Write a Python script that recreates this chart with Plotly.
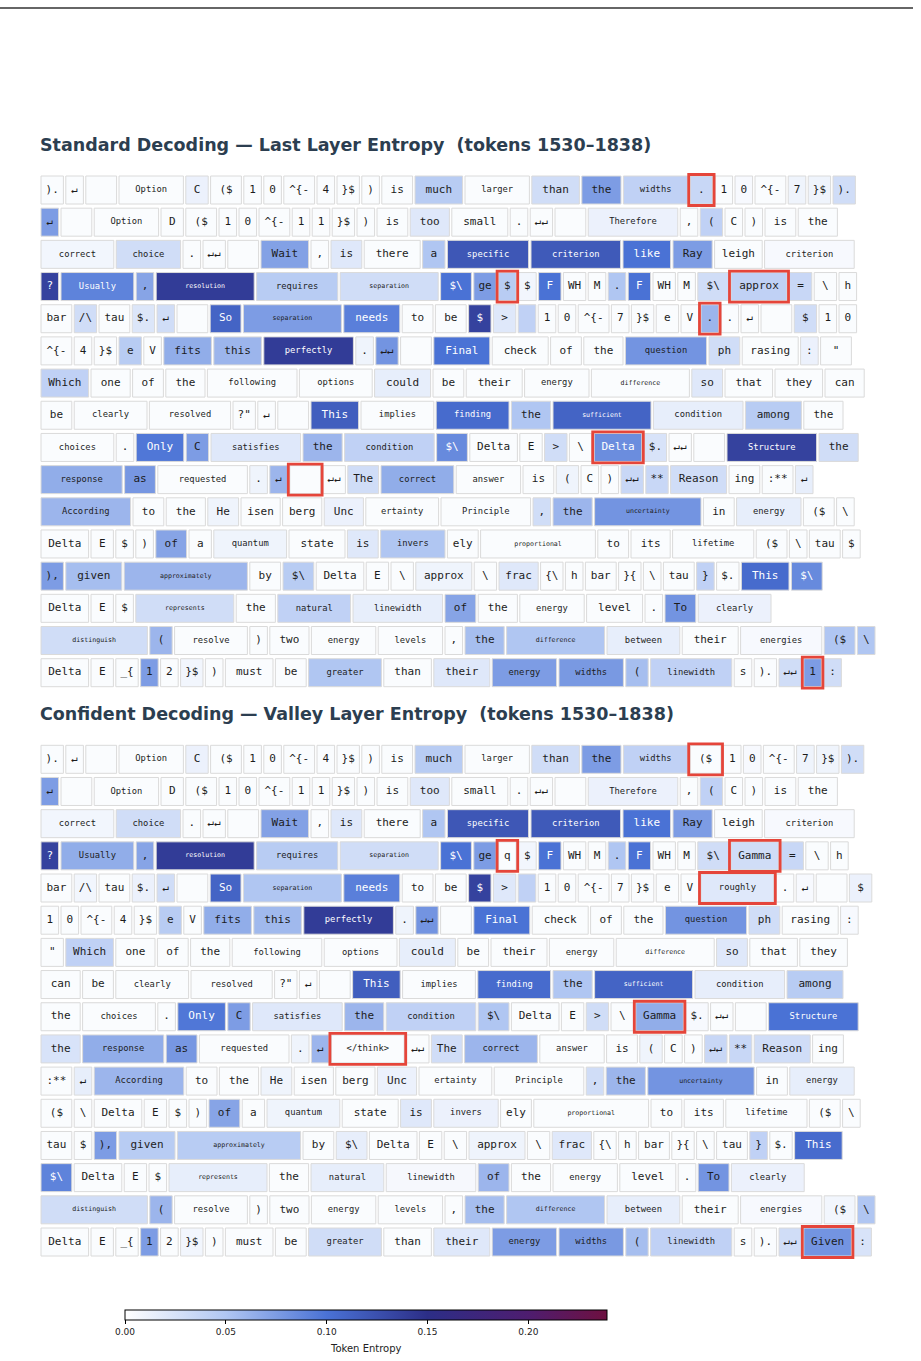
import plotly.graph_objects as go

# ---------------- data ----------------
STD_ROWS = [
    [").", "↵", "   ", " Option", " C", " ($", "1", "0", "^{-", "4", "}$", ")", " is", " much", " larger", " than", " the", " widths", " .", "1", "0", "^{-", "7", "}$", ")."],
    ["↵", "   ", " Option", " D", " ($", "1", "0", "^{-", "1", "1", "}$", ")", " is", " too", " small", ".", "↵↵", "   ", " Therefore", ",", " (", "C", ")", " is", " the"],
    [" correct", " choice", ".", "↵↵", "   ", " Wait", ",", " is", " there", " a", " specific", " criterion", " like", " Ray", "leigh", " criterion"],
    ["?", " Usually", ",", " resolution", " requires", " separation", " $\\", "ge", "$", "$", " F", "WH", "M", ".", " F", "WH", "M", " $\\", "approx", " =", " \\", "h"],
    ["bar", "/\\", "tau", "$.", "↵", "   ", " So", " separation", " needs", " to", " be", " $", " >", " ", "1", "0", "^{-", "7", "}$", " e", "V", ".", ".", "↵", "   ", " $", "1", "0"],
    ["^{-", "4", "}$", " e", "V", " fits", " this", " perfectly", ".", "↵↵", "   ", " Final", " check", " of", " the", " question", " ph", "rasing", ":", "  \""],
    ["Which", " one", " of", " the", " following", " options", " could", " be", " their", " energy", " difference", " so", " that", " they", " can"],
    [" be", " clearly", " resolved", "?\"", "↵", "   ", " This", " implies", " finding", " the", " sufficient", " condition", " among", " the"],
    [" choices", ".", " Only", " C", " satisfies", " the", " condition", " $\\", "Delta", " E", " >", " \\", "Delta", "$.", "↵↵", "   ", " Structure", " the"],
    [" response", " as", " requested", ".", "↵", "   ", "↵↵", "The", " correct", " answer", " is", " (", "C", ")", "↵↵", "**", "Reason", "ing", ":**", "↵"],
    [" According", " to", " the", " He", "isen", "berg", " Unc", "ertainty", " Principle", ",", " the", " uncertainty", " in", " energy", " ($", "\\"],
    ["Delta", " E", "$", ")", " of", " a", " quantum", " state", " is", " invers", "ely", " proportional", " to", " its", " lifetime", " ($", "\\", "tau", "$"],
    ["),", " given", " approximately", " by", " $\\", "Delta", " E", " \\", "approx", " \\", "frac", "{\\", "h", "bar", "}{", "\\", "tau", "}", "$.", " This", " $\\"],
    ["Delta", " E", "$", " represents", " the", " natural", " linewidth", " of", " the", " energy", " level", ".", " To", " clearly"],
    [" distinguish", " (", " resolve", ")", " two", " energy", " levels", ",", " the", " difference", " between", " their", " energies", " ($", "\\"],
    ["Delta", " E", "_{", "1", "2", "}$", ")", " must", " be", " greater", " than", " their", " energy", " widths", " (", "linewidth", "s", ").", "↵↵", "1", ":"],
]
STD_ENT = [
    [.003, .003, .003, .003, .012, .003, .003, .003, .003, .003, .003, .003, .003, .045, .003, .03, .075, .04, .035, .003, .005, .003, .01, .01, .03],
    [.075, .003, .003, .003, .003, .003, .003, .003, .003, .003, .003, .003, .003, .02, .003, .003, .003, .003, .012, .003, .04, .003, .003, .003, .003],
    [.008, .03, .003, .003, .003, .072, .003, .02, .003, .05, .12, .118, .1, .075, .003, .005],
    [.135, .09, .07, .14, .045, .03, .1, .075, .045, .008, .1, .003, .003, .05, .1, .003, .003, .03, .04, .035, .003, .003],
    [.003, .03, .003, .022, .03, .003, .11, .075, .092, .003, .003, .135, .02, .04, .003, .003, .003, .003, .003, .003, .003, .06, .003, .003, .003, .03, .003, .003],
    [.003, .003, .003, .045, .003, .065, .06, .14, .01, .08, .003, .1, .003, .003, .003, .08, .03, .003, .012, .003],
    [.04, .003, .003, .003, .003, .003, .015, .003, .003, .003, .003, .02, .003, .003, .003],
    [.003, .003, .003, .003, .003, .003, .115, .003, .105, .05, .11, .015, .045, .003],
    [.003, .003, .097, .075, .02, .06, .04, .086, .003, .003, .03, .003, .084, .025, .003, .003, .135, .03],
    [.065, .078, .003, .01, .06, .003, .003, .03, .065, .003, .003, .01, .003, .003, .035, .035, .03, .003, .003, .015],
    [.06, .003, .003, .01, .003, .003, .012, .003, .003, .03, .06, .08, .003, .015, .003, .003],
    [.003, .003, .003, .003, .07, .003, .01, .003, .02, .05, .003, .003, .003, .003, .003, .003, .003, .003, .003],
    [.075, .055, .06, .003, .045, .003, .003, .003, .01, .003, .02, .003, .003, .003, .003, .003, .003, .04, .003, .105, .086],
    [.003, .003, .003, .03, .003, .04, .015, .07, .003, .003, .003, .003, .08, .012],
    [.03, .06, .003, .003, .003, .003, .003, .003, .055, .05, .015, .003, .005, .05, .05],
    [.003, .003, .003, .075, .003, .008, .003, .003, .003, .05, .003, .02, .075, .077, .055, .04, .003, .003, .03, .075, .03],
]
STD_HL = [(0, 18), (3, 8), (3, 18), (4, 21), (8, 12), (9, 5), (15, 19)]

CONF_ROWS = [
    [").", "↵", "   ", " Option", " C", " ($", "1", "0", "^{-", "4", "}$", ")", " is", " much", " larger", " than", " the", " widths", " ($", "1", "0", "^{-", "7", "}$", ")."],
    ["↵", "   ", " Option", " D", " ($", "1", "0", "^{-", "1", "1", "}$", ")", " is", " too", " small", ".", "↵↵", "   ", " Therefore", ",", " (", "C", ")", " is", " the"],
    [" correct", " choice", ".", "↵↵", "   ", " Wait", ",", " is", " there", " a", " specific", " criterion", " like", " Ray", "leigh", " criterion"],
    ["?", " Usually", ",", " resolution", " requires", " separation", " $\\", "ge", "q", "$", " F", "WH", "M", ".", " F", "WH", "M", " $\\", "Gamma", " =", " \\", "h"],
    ["bar", "/\\", "tau", "$.", "↵", "   ", " So", " separation", " needs", " to", " be", " $", " >", " ", "1", "0", "^{-", "7", "}$", " e", "V", " roughly", ".", "↵", "   ", " $"],
    ["1", "0", "^{-", "4", "}$", " e", "V", " fits", " this", " perfectly", ".", "↵↵", "   ", " Final", " check", " of", " the", " question", " ph", "rasing", ":"],
    [" \"", "Which", " one", " of", " the", " following", " options", " could", " be", " their", " energy", " difference", " so", " that", " they"],
    [" can", " be", " clearly", " resolved", "?\"", "↵", "   ", " This", " implies", " finding", " the", " sufficient", " condition", " among"],
    [" the", " choices", ".", " Only", " C", " satisfies", " the", " condition", " $\\", "Delta", " E", " >", " \\", "Gamma", "$.", "↵↵", "   ", " Structure"],
    [" the", " response", " as", " requested", ".", "↵", "</think>", "↵↵", "The", " correct", " answer", " is", " (", "C", ")", "↵↵", "**", "Reason", "ing"],
    [":**", "↵", " According", " to", " the", " He", "isen", "berg", " Unc", "ertainty", " Principle", ",", " the", " uncertainty", " in", " energy"],
    [" ($", "\\", "Delta", " E", "$", ")", " of", " a", " quantum", " state", " is", " invers", "ely", " proportional", " to", " its", " lifetime", " ($", "\\"],
    ["tau", "$", "),", " given", " approximately", " by", " $\\", "Delta", " E", " \\", "approx", " \\", "frac", "{\\", "h", "bar", "}{", "\\", "tau", "}", "$.", " This"],
    [" $\\", "Delta", " E", "$", " represents", " the", " natural", " linewidth", " of", " the", " energy", " level", ".", " To", " clearly"],
    [" distinguish", " (", " resolve", ")", " two", " energy", " levels", ",", " the", " difference", " between", " their", " energies", " ($", "\\"],
    ["Delta", " E", "_{", "1", "2", "}$", ")", " must", " be", " greater", " than", " their", " energy", " widths", " (", "linewidth", "s", ").", "↵↵", "Given", ":"],
]
CONF_ENT = [
    [.003, .003, .003, .003, .012, .003, .003, .003, .003, .003, .003, .003, .003, .045, .003, .03, .075, .04, .003, .003, .005, .003, .01, .01, .03],
    [.075, .003, .003, .003, .003, .003, .003, .003, .003, .003, .003, .003, .003, .02, .003, .003, .003, .003, .012, .003, .04, .003, .003, .003, .003],
    [.008, .03, .003, .003, .003, .072, .003, .02, .003, .05, .12, .118, .1, .075, .003, .005],
    [.135, .065, .07, .14, .045, .03, .1, .075, .003, .008, .1, .003, .003, .05, .1, .003, .003, .03, .03, .035, .003, .003],
    [.003, .008, .003, .012, .03, .003, .11, .05, .092, .003, .003, .135, .02, .04, .003, .003, .003, .003, .003, .003, .003, .02, .003, .005, .003, .012],
    [.003, .003, .003, .003, .003, .045, .003, .065, .058, .14, .01, .08, .003, .1, .003, .003, .003, .08, .03, .003, .005],
    [.003, .04, .003, .003, .003, .003, .003, .015, .003, .003, .003, .003, .02, .003, .003],
    [.003, .003, .003, .003, .003, .003, .003, .115, .003, .105, .05, .11, .015, .045],
    [.003, .003, .003, .097, .075, .02, .06, .04, .05, .003, .003, .03, .003, .065, .005, .003, .003, .1],
    [.025, .065, .078, .003, .01, .06, .003, .003, .03, .06, .003, .003, .01, .003, .003, .035, .035, .03, .003],
    [.003, .015, .06, .003, .003, .01, .003, .003, .012, .003, .003, .03, .06, .08, .003, .015],
    [.003, .003, .003, .003, .003, .003, .07, .003, .01, .003, .02, .012, .003, .003, .003, .003, .003, .003, .003],
    [.003, .003, .075, .045, .045, .003, .015, .003, .003, .003, .01, .003, .02, .003, .003, .003, .003, .003, .003, .04, .003, .105],
    [.09, .003, .003, .003, .015, .003, .015, .006, .06, .003, .003, .003, .003, .08, .012],
    [.03, .06, .003, .003, .003, .003, .003, .003, .055, .05, .015, .003, .005, .008, .05],
    [.003, .003, .003, .075, .003, .008, .003, .003, .003, .03, .003, .02, .075, .077, .055, .04, .003, .003, .03, .08, .025],
]
CONF_HL = [(0, 18), (3, 8), (3, 18), (4, 21), (8, 13), (9, 6), (15, 19)]

TITLES = [
    "Standard Decoding — Last Layer Entropy  (tokens 1530–1838)",
    "Confident Decoding — Valley Layer Entropy  (tokens 1530–1838)",
]
CB_TITLE = "Token Entropy"
CB_TICKS = [0.00, 0.05, 0.10, 0.15, 0.20]
CB_MAX = 0.239

# ---------------- layout constants ----------------
W, H = 921, 1361
X_START = 41.0
ROW_PITCH = 32.18
PANEL_ROW0 = [190.0, 759.3]
TITLE_Y = [145.0, 714.0]
BOX_H = 28.0
GAP = 2.4
CHAR_W = 8.4
PAD = 8.0
MIN_PITCH = 20.0
WHITE_TEXT_AT = 0.082

COLORSCALE = [
    [0.0, "#ffffff"],
    [0.05 / CB_MAX, "#b0c6f2"],
    [0.10 / CB_MAX, "#4a72d5"],
    [0.15 / CB_MAX, "#2c2e87"],
    [0.20 / CB_MAX, "#4e1d6f"],
    [1.0, "#6e1040"],
]


def tok_pitch(tok):
    return max(MIN_PITCH, CHAR_W * len(tok) + PAD)


def tok_font(tok):
    n = len(tok)
    if n <= 6:
        return 11.0
    if n <= 10:
        return 8.8
    return 6.6


fig = go.Figure()

for p, (rows, ents, hls) in enumerate([(STD_ROWS, STD_ENT, STD_HL), (CONF_ROWS, CONF_ENT, CONF_HL)]):
    bases, widths, ys, cols = [], [], [], []
    tx, ty, tt, ts, tc = [], [], [], [], []
    pos = {}
    for r, (row, erow) in enumerate(zip(rows, ents)):
        assert len(row) == len(erow), (p, r, len(row), len(erow))
        x = X_START
        yc = PANEL_ROW0[p] + r * ROW_PITCH
        for i, (tok, e) in enumerate(zip(row, erow)):
            pw = tok_pitch(tok)
            w = pw - GAP
            bases.append(x)
            widths.append(w)
            ys.append(yc)
            cols.append(e)
            tx.append(x + w / 2)
            ty.append(yc)
            tt.append(tok.strip())
            ts.append(tok_font(tok))
            tc.append("#ffffff" if e >= WHITE_TEXT_AT else "#1c1c1c")
            pos[(r, i)] = (x, w, yc)
            x += pw
    fig.add_trace(go.Bar(
        orientation="h", base=bases, x=widths, y=ys, width=BOX_H,
        marker=dict(color=cols, coloraxis="coloraxis", line=dict(color="#dadada", width=1)),
        hoverinfo="skip", showlegend=False,
    ))
    hb, hw, hy = [], [], []
    for key in hls:
        x, w, yc = pos[key]
        hb.append(x - 1.5)
        hw.append(w + 3)
        hy.append(yc)
    fig.add_trace(go.Bar(
        orientation="h", base=hb, x=hw, y=hy, width=BOX_H + 3,
        marker=dict(color="rgba(0,0,0,0)", line=dict(color="#e5453a", width=2.8)),
        hoverinfo="skip", showlegend=False,
    ))
    fig.add_trace(go.Scatter(
        x=tx, y=ty, text=tt, mode="text", textposition="middle center",
        textfont=dict(family="DejaVu Sans Mono", size=ts, color=tc),
        hoverinfo="skip", showlegend=False,
    ))
    fig.add_annotation(
        x=38 / W, y=1 - TITLE_Y[p] / H, xref="paper", yref="paper",
        xanchor="left", yanchor="middle", showarrow=False,
        text="<b>" + TITLES[p] + "</b>",
        font=dict(family="DejaVu Sans", size=17.5, color="#2c3e50"),
    )

fig.add_shape(type="line", xref="paper", yref="paper", x0=0, x1=913 / W,
              y0=1 - 8 / H, y1=1 - 8 / H, line=dict(color="#333333", width=1.5))

fig.add_annotation(
    x=366 / W, y=1 - 1348 / H, xref="paper", yref="paper",
    xanchor="center", yanchor="middle", showarrow=False,
    text=CB_TITLE, font=dict(family="DejaVu Sans", size=10, color="#222222"),
)

fig.update_layout(
    width=W, height=H, margin=dict(l=0, r=0, t=0, b=0),
    paper_bgcolor="white", plot_bgcolor="white",
    barmode="overlay", showlegend=False,
    xaxis=dict(range=[0, W], visible=False, fixedrange=True),
    yaxis=dict(range=[H, 0], visible=False, fixedrange=True),
    coloraxis=dict(
        cmin=0, cmax=CB_MAX, colorscale=COLORSCALE,
        colorbar=dict(
            orientation="h", x=366 / W, xanchor="center", y=1 - 1310 / H, yanchor="top",
            len=482, lenmode="pixels", thickness=10, thicknessmode="pixels",
            outlinewidth=1, outlinecolor="#000000", xpad=0, ypad=0,
            tickvals=CB_TICKS, ticktext=["%.2f" % v for v in CB_TICKS],
            ticks="outside", ticklen=4, tickcolor="#000000",
            tickfont=dict(family="DejaVu Sans", size=9, color="#222222"),
        ),
    ),
)

fig.write_html("out.html")
